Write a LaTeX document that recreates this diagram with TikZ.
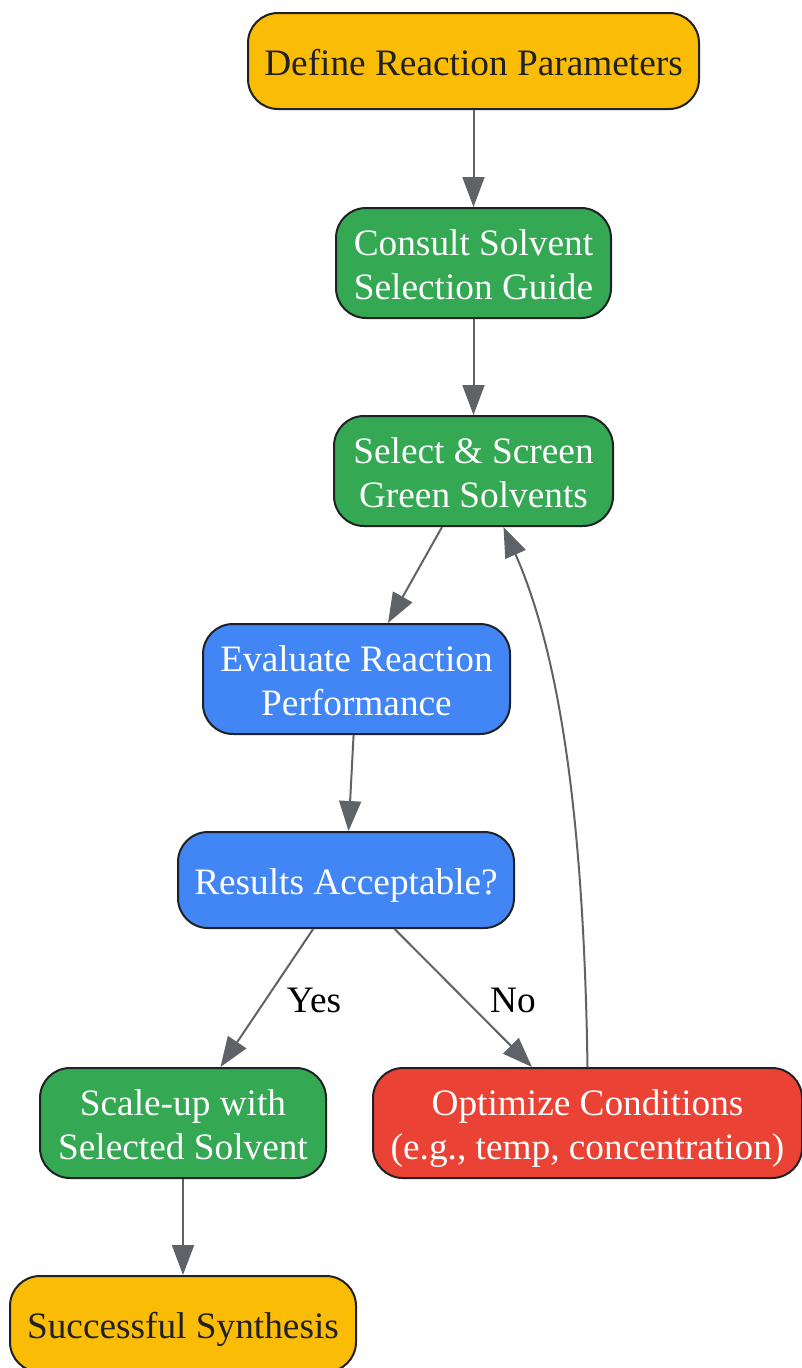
\documentclass[tikz,border=0pt]{standalone}
\usepackage{fontspec}
\setmainfont{Liberation Serif}
\usetikzlibrary{arrows.meta}
\definecolor{gorange}{HTML}{FBBC05}
\definecolor{ggreen}{HTML}{34A853}
\definecolor{gblue}{HTML}{4285F4}
\definecolor{gred}{HTML}{EA4335}
\definecolor{gdark}{HTML}{202124}
\definecolor{gedge}{HTML}{5F6368}
\newcommand{\ls}{\rule[-9pt]{0pt}{46.8pt}}
\tikzset{
  box/.style={draw=gdark, line width=2pt, rounded corners=30pt, align=center,
    inner sep=0pt, font=\fontsize{37.3}{44.8}\selectfont,
    execute at begin node={\lineskiplimit=-100pt\relax}},
  orangebox/.style={box, fill=gorange, text=gdark},
  greenbox/.style={box, fill=ggreen, text=white},
  bluebox/.style={box, fill=gblue, text=white},
  redbox/.style={box, fill=gred, text=white},
  edge/.style={draw=gedge, line width=2pt, -{Triangle[length=30pt,width=22pt]}},
  elabel/.style={font=\fontsize{37.3}{44.8}\selectfont, text=black}
}
\begin{document}
\begin{tikzpicture}[x=1pt,y=-1pt]
\useasboundingbox (0,0) rectangle (802,1368);
\node[orangebox, minimum width=451pt, minimum height=96pt] (n1) at (473.5,61) {\ls Define Reaction Parameters};
\node[greenbox, minimum width=275pt, minimum height=110pt] (n2) at (473.5,263) {\ls Consult Solvent\\\ls Selection Guide};
\node[greenbox, minimum width=279pt, minimum height=110pt] (n3) at (473.5,471) {\ls Select \& Screen\\\ls Green Solvents};
\node[bluebox, minimum width=307pt, minimum height=110pt] (n4) at (356.5,679) {\ls Evaluate Reaction\\\ls Performance};
\node[bluebox, minimum width=336pt, minimum height=96pt] (n5) at (346,880) {\ls Results Acceptable?};
\node[greenbox, minimum width=286pt, minimum height=110pt] (n6) at (183,1123) {\ls Scale-up with\\\ls Selected Solvent};
\node[redbox, minimum width=429pt, minimum height=110pt] (n7) at (587.5,1123) {\ls Optimize Conditions\\\ls (e.g., temp, concentration)};
\node[orangebox, minimum width=346pt, minimum height=96pt] (n8) at (183,1324) {\ls Successful Synthesis};
\draw[edge] (n1) -- (n2);
\draw[edge] (n2) -- (n3);
\draw[edge] (n3) -- (n4);
\draw[edge] (n4) -- (n5);
\draw[edge] (n5) -- (n6);
\draw[edge] (n5) -- (n7);
\draw[edge] (n6) -- (n8);
\draw[edge] (n7.north) .. controls (584,830) and (562,660) .. ([xshift=30pt]n3.south);
\node[elabel] (yes) at (314,1000) {Yes};
\node[elabel] (no) at (513,1000) {No};
\end{tikzpicture}
\end{document}
